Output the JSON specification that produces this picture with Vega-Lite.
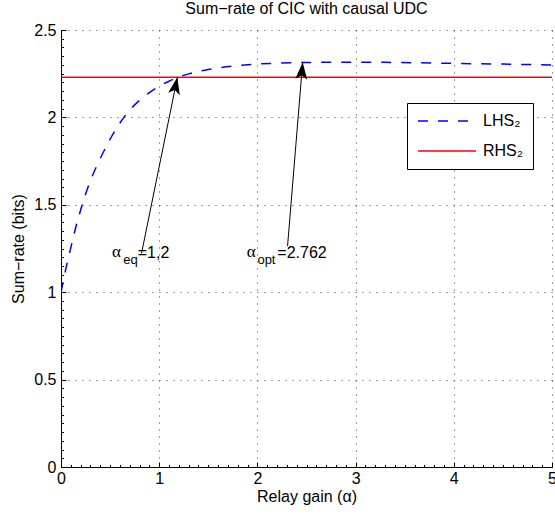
{
  "$schema": "https://vega.github.io/schema/vega-lite/v6.json",
  "width": 491,
  "height": 437,
  "autosize": "none",
  "padding": {"left": 61, "top": 30, "right": 3, "bottom": 48},
  "background": "white",
  "config": {
    "view": {"stroke": null},
    "font": "Liberation Sans",
    "text": {"font": "Liberation Sans", "color": "#000"}
  },
  "title": {
    "text": "Sum−rate of CIC with causal UDC",
    "fontSize": 16,
    "font": "Liberation Sans",
    "fontWeight": "normal",
    "color": "#000",
    "offset": 5
  },
  "datasets": {
    "curves": [
      {"a": 0, "v": 1.0, "s": "LHS₂"},
      {"a": 0.025, "v": 1.07, "s": "LHS₂"},
      {"a": 0.05, "v": 1.135, "s": "LHS₂"},
      {"a": 0.1, "v": 1.255, "s": "LHS₂"},
      {"a": 0.15, "v": 1.37, "s": "LHS₂"},
      {"a": 0.2, "v": 1.47, "s": "LHS₂"},
      {"a": 0.25, "v": 1.56, "s": "LHS₂"},
      {"a": 0.3, "v": 1.638, "s": "LHS₂"},
      {"a": 0.4, "v": 1.765, "s": "LHS₂"},
      {"a": 0.5, "v": 1.875, "s": "LHS₂"},
      {"a": 0.6, "v": 1.968, "s": "LHS₂"},
      {"a": 0.7, "v": 2.042, "s": "LHS₂"},
      {"a": 0.8, "v": 2.098, "s": "LHS₂"},
      {"a": 0.9, "v": 2.142, "s": "LHS₂"},
      {"a": 1.0, "v": 2.178, "s": "LHS₂"},
      {"a": 1.1, "v": 2.207, "s": "LHS₂"},
      {"a": 1.2, "v": 2.231, "s": "LHS₂"},
      {"a": 1.3, "v": 2.249, "s": "LHS₂"},
      {"a": 1.4, "v": 2.263, "s": "LHS₂"},
      {"a": 1.5, "v": 2.274, "s": "LHS₂"},
      {"a": 1.6, "v": 2.283, "s": "LHS₂"},
      {"a": 1.8, "v": 2.296, "s": "LHS₂"},
      {"a": 2.0, "v": 2.305, "s": "LHS₂"},
      {"a": 2.2, "v": 2.31, "s": "LHS₂"},
      {"a": 2.4, "v": 2.313, "s": "LHS₂"},
      {"a": 2.6, "v": 2.315, "s": "LHS₂"},
      {"a": 2.8, "v": 2.316, "s": "LHS₂"},
      {"a": 3.0, "v": 2.316, "s": "LHS₂"},
      {"a": 3.3, "v": 2.315, "s": "LHS₂"},
      {"a": 3.6, "v": 2.313, "s": "LHS₂"},
      {"a": 4.0, "v": 2.309, "s": "LHS₂"},
      {"a": 4.5, "v": 2.305, "s": "LHS₂"},
      {"a": 5.0, "v": 2.3, "s": "LHS₂"},
      {"a": 0, "v": 2.229, "s": "RHS₂"},
      {"a": 5, "v": 2.229, "s": "RHS₂"}
    ],
    "arrows": [
      {"id": "eq", "x": 0.82, "y": 1.222, "x2": 1.185, "y2": 2.229},
      {"id": "opt", "x": 2.307, "y": 1.264, "x2": 2.461, "y2": 2.315}
    ],
    "notes": [
      {"x": 0.52, "y": 1.201, "t": "α", "k": "greek"},
      {"x": 0.634, "y": 1.164, "t": "eq", "k": "sub"},
      {"x": 0.781, "y": 1.197, "t": "=1,2", "k": "main"},
      {"x": 1.891, "y": 1.201, "t": "α", "k": "greek"},
      {"x": 2.0, "y": 1.164, "t": "opt", "k": "sub"},
      {"x": 2.203, "y": 1.197, "t": "=2.762", "k": "main"}
    ]
  },
  "layer": [
    {
      "data": {"name": "curves"},
      "mark": {"type": "line", "strokeWidth": 1.5, "interpolate": "monotone", "clip": true},
      "encoding": {
        "x": {
          "field": "a", "type": "quantitative",
          "scale": {"domain": [0, 5], "nice": false, "zero": false},
          "axis": {
            "orient": "bottom", "values": [0, 1, 2, 3, 4, 5], "format": "d",
            "title": "Relay gain (α)", "grid": true, "gridDash": [1, 6],
            "gridColor": "#000", "gridOpacity": 0.75, "domainColor": "#000",
            "tickColor": "#000", "tickSize": -5, "labelPadding": 8,
            "labelFontSize": 16, "labelColor": "#000", "labelFlush": false,
            "labelOverlap": false, "titleFontSize": 16, "titleFontWeight": "normal",
            "titleColor": "#000", "titlePadding": 2
          }
        },
        "y": {
          "field": "v", "type": "quantitative",
          "scale": {"domain": [0, 2.5], "nice": false, "zero": false},
          "axis": {
            "orient": "left", "values": [0, 0.5, 1, 1.5, 2, 2.5], "format": "~g",
            "title": "Sum−rate (bits)", "grid": true, "gridDash": [1, 6],
            "gridColor": "#000", "gridOpacity": 0.75, "domainColor": "#000",
            "tickColor": "#000", "tickSize": -5, "labelPadding": 10,
            "labelFontSize": 16, "labelColor": "#000", "labelFlush": false,
            "labelOverlap": false, "titleFontSize": 16, "titleFontWeight": "normal",
            "titleColor": "#000", "titlePadding": 7
          }
        },
        "color": {
          "field": "s", "type": "nominal",
          "scale": {"domain": ["LHS₂", "RHS₂"], "range": ["#0000ff", "#ff0000"]},
          "legend": {
            "orient": "none", "legendX": 346, "legendY": 73, "title": null,
            "symbolType": "stroke", "symbolSize": 3364, "symbolStrokeWidth": 1.5,
            "labelFontSize": 16, "labelFont": "Liberation Sans", "labelColor": "#000",
            "labelOffset": 6, "strokeColor": "#000", "fillColor": "#fff",
            "padding": 10, "clipHeight": 16, "rowPadding": 14,
            "labelExpr": "datum.label + '           '"
          }
        },
        "strokeDash": {
          "field": "s", "type": "nominal",
          "scale": {"domain": ["LHS₂", "RHS₂"], "range": [[10, 10], [1, 0]]},
          "legend": {
            "orient": "none", "legendX": 346, "legendY": 73, "title": null,
            "symbolType": "stroke", "symbolSize": 3364, "symbolStrokeWidth": 1.5,
            "labelFontSize": 16, "labelFont": "Liberation Sans", "labelColor": "#000",
            "labelOffset": 6, "strokeColor": "#000", "fillColor": "#fff",
            "padding": 10, "clipHeight": 16, "rowPadding": 14,
            "labelExpr": "datum.label + '           '"
          }
        }
      }
    },
    {
      "data": {"name": "arrows"},
      "mark": {"type": "rule", "color": "#000", "strokeWidth": 1},
      "encoding": {
        "x": {
          "field": "x", "type": "quantitative",
          "scale": {"domain": [0, 5], "nice": false, "zero": false},
          "axis": {
            "orient": "bottom", "title": null, "labels": false, "domain": false,
            "grid": false, "ticks": true, "tickSize": -2.5, "tickColor": "#000",
            "values": [0.1, 0.2, 0.3, 0.4, 0.5, 0.6, 0.7, 0.8, 0.9, 1.1, 1.2, 1.3, 1.4, 1.5, 1.6, 1.7, 1.8, 1.9, 2.1, 2.2, 2.3, 2.4, 2.5, 2.6, 2.7, 2.8, 2.9, 3.1, 3.2, 3.3, 3.4, 3.5, 3.6, 3.7, 3.8, 3.9, 4.1, 4.2, 4.3, 4.4, 4.5, 4.6, 4.7, 4.8, 4.9]
          }
        },
        "y": {
          "field": "y", "type": "quantitative",
          "scale": {"domain": [0, 2.5], "nice": false, "zero": false},
          "axis": {
            "orient": "left", "title": null, "labels": false, "domain": false,
            "grid": false, "ticks": true, "tickSize": -2.5, "tickColor": "#000",
            "values": [0.05, 0.1, 0.15, 0.2, 0.25, 0.3, 0.35, 0.4, 0.45, 0.55, 0.6, 0.65, 0.7, 0.75, 0.8, 0.85, 0.9, 0.95, 1.05, 1.1, 1.15, 1.2, 1.25, 1.3, 1.35, 1.4, 1.45, 1.55, 1.6, 1.65, 1.7, 1.75, 1.8, 1.85, 1.9, 1.95, 2.05, 2.1, 2.15, 2.2, 2.25, 2.3, 2.35, 2.4, 2.45]
          }
        },
        "x2": {"field": "x2"},
        "y2": {"field": "y2"}
      }
    },
    {
      "data": {"name": "arrows"},
      "transform": [{"filter": "datum.id === 'eq'"}],
      "mark": {"type": "point", "shape": "M0,0 L0.35,1 L0,0.76 L-0.35,1 Z", "size": 1156, "filled": true, "color": "#000", "opacity": 1, "angle": 11.5},
      "encoding": {
        "x": {"field": "x2", "type": "quantitative", "scale": {"domain": [0, 5], "nice": false, "zero": false}, "axis": null},
        "y": {"field": "y2", "type": "quantitative", "scale": {"domain": [0, 2.5], "nice": false, "zero": false}, "axis": null}
      }
    },
    {
      "data": {"name": "arrows"},
      "transform": [{"filter": "datum.id === 'opt'"}],
      "mark": {"type": "point", "shape": "M0,0 L0.35,1 L0,0.76 L-0.35,1 Z", "size": 1156, "filled": true, "color": "#000", "opacity": 1, "angle": 4.7},
      "encoding": {
        "x": {"field": "x2", "type": "quantitative", "scale": {"domain": [0, 5], "nice": false, "zero": false}, "axis": null},
        "y": {"field": "y2", "type": "quantitative", "scale": {"domain": [0, 2.5], "nice": false, "zero": false}, "axis": null}
      }
    },
    {
      "data": {"name": "notes"},
      "transform": [{"filter": "datum.k === 'greek'"}],
      "mark": {"type": "text", "align": "left", "baseline": "alphabetic", "fontSize": 17, "font": "Liberation Serif", "color": "#000"},
      "encoding": {
        "x": {"field": "x", "type": "quantitative", "scale": {"domain": [0, 5], "nice": false, "zero": false}, "axis": null},
        "y": {"field": "y", "type": "quantitative", "scale": {"domain": [0, 2.5], "nice": false, "zero": false}, "axis": null},
        "text": {"field": "t"}
      }
    },
    {
      "data": {"name": "notes"},
      "transform": [{"filter": "datum.k === 'sub'"}],
      "mark": {"type": "text", "align": "left", "baseline": "alphabetic", "fontSize": 13, "font": "Liberation Sans", "color": "#000"},
      "encoding": {
        "x": {"field": "x", "type": "quantitative", "scale": {"domain": [0, 5], "nice": false, "zero": false}, "axis": null},
        "y": {"field": "y", "type": "quantitative", "scale": {"domain": [0, 2.5], "nice": false, "zero": false}, "axis": null},
        "text": {"field": "t"}
      }
    },
    {
      "data": {"name": "notes"},
      "transform": [{"filter": "datum.k === 'main'"}],
      "mark": {"type": "text", "align": "left", "baseline": "alphabetic", "fontSize": 16, "font": "Liberation Sans", "color": "#000"},
      "encoding": {
        "x": {"field": "x", "type": "quantitative", "scale": {"domain": [0, 5], "nice": false, "zero": false}, "axis": null},
        "y": {"field": "y", "type": "quantitative", "scale": {"domain": [0, 2.5], "nice": false, "zero": false}, "axis": null},
        "text": {"field": "t"}
      }
    }
  ],
  "resolve": {"axis": {"x": "independent", "y": "independent"}}
}
